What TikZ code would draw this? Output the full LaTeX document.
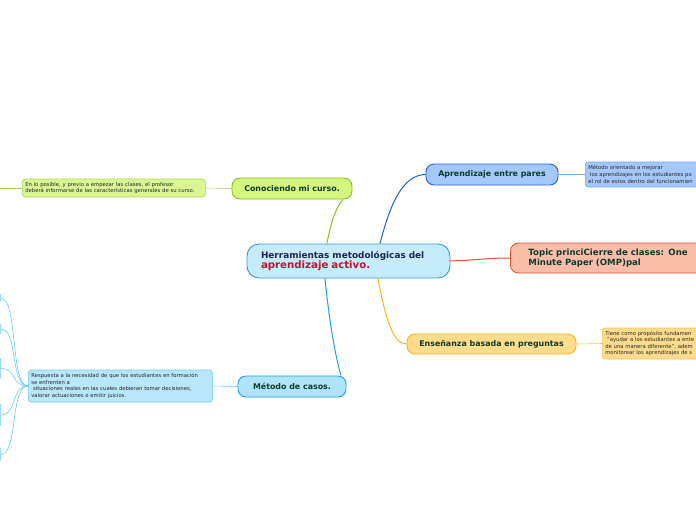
\documentclass[tikz,border=0pt]{standalone}
\usepackage{fontspec}
\setmainfont{DejaVu Sans}
\usepackage{xcolor}
\usetikzlibrary{arrows.meta}

\definecolor{cNavy}{HTML}{1A2550}
\definecolor{cCrimson}{HTML}{C8102E}
\definecolor{cTopicTxt}{HTML}{0F3B2C}
\definecolor{cMainFill}{HTML}{C6EBFB}
\definecolor{cMainLine}{HTML}{2A9FD8}
\definecolor{cGreenFill}{HTML}{D4F57E}
\definecolor{cGreenLine}{HTML}{8CBF1E}
\definecolor{cGreenSub}{HTML}{D9F693}
\definecolor{cGreenSubLine}{HTML}{A9D64E}
\definecolor{cCaseFill}{HTML}{AEE3F9}
\definecolor{cCaseLine}{HTML}{1AA2DC}
\definecolor{cCaseSub}{HTML}{B8E7FB}
\definecolor{cCaseSubLine}{HTML}{6CCAF0}
\definecolor{cPeerFill}{HTML}{A4C8FA}
\definecolor{cPeerLine}{HTML}{1E62CF}
\definecolor{cPeerSubLine}{HTML}{72A8EF}
\definecolor{cRedFill}{HTML}{F9BDA9}
\definecolor{cRedLine}{HTML}{E5532B}
\definecolor{cAskFill}{HTML}{FEDC8C}
\definecolor{cAskLine}{HTML}{F9B31A}
\definecolor{cAskSubLine}{HTML}{F6C555}

\begin{document}
\begin{tikzpicture}[x=1pt,y=-1pt,
  topicbox/.style={draw,rounded corners=8pt,line width=0.9pt,inner sep=0pt,
    font=\fontsize{7.9}{9}\selectfont\bfseries,text=cTopicTxt},
  subbox/.style={draw,rounded corners=3pt,line width=0.6pt,anchor=west,align=left,
    inner xsep=3pt,inner ysep=2pt,font=\fontsize{5.3}{6.6}\selectfont,text=black!85},
  leafbox/.style={draw=cCaseSubLine,fill=white,rounded corners=3pt,line width=0.6pt,
    anchor=east,minimum width=60pt,inner sep=0pt},
  link/.style={line width=1pt},
  sublink/.style={line width=0.6pt}]
  \useasboundingbox (0,0) rectangle (696,520);
  \clip (0,0) rectangle (696,520);

  % main topic
  \node[draw=cMainLine,fill=cMainFill,rounded corners=12pt,line width=0.9pt,
    inner xsep=14pt,inner ysep=0pt,minimum height=34pt,text width=175pt,align=left,
    font=\fontsize{8.9}{10.5}\selectfont\bfseries,text=cNavy] (ctr) at (348.5,261)
    {Herramientas metodológicas del\\{\color{cCrimson}\fontsize{10.2}{11}\selectfont aprendizaje activo.}};

  % topics
  \node[topicbox,draw=cGreenLine,fill=cGreenFill,minimum width=120pt,minimum height=21pt] (curso) at (292,188.5) {Conociendo mi curso.};
  \node[topicbox,draw=cCaseLine,fill=cCaseFill,minimum width=108pt,minimum height=21pt] (casos) at (292,386.5) {Método de casos.};
  \node[topicbox,draw=cPeerLine,fill=cPeerFill,minimum width=132pt,minimum height=21pt] (pares) at (492,174.5) {Aprendizaje entre pares};
  \node[topicbox,draw=cRedLine,fill=cRedFill,anchor=west,minimum height=30pt,text width=200pt,
    inner xsep=18pt,align=left,font=\fontsize{8.6}{10.3}\selectfont\bfseries] (cierre) at (510,258)
    {Topic princiCierre de clases: One\\Minute Paper (OMP)pal};
  \node[topicbox,draw=cAskLine,fill=cAskFill,minimum width=169pt,minimum height=20pt] (preg) at (491.5,344) {Enseñanza basada en preguntas};

  % subtopics
  \node[subbox,draw=cGreenSubLine,fill=cGreenSub,minimum height=18pt,text width=177pt] (cursosub) at (22,188)
    {En lo posible, y previo a empezar las clases, el profesor\\deberá informarse de las características generales de su curso.};
  \node[subbox,draw=cCaseSubLine,fill=cCaseSub,minimum height=32pt,text width=178pt] (casossub) at (28,386)
    {Respuesta a la necesidad de que los estudiantes en formación\\se enfrenten a\\\ situaciones reales en las cuales debieran tomar decisiones,\\valorar actuaciones o emitir juicios.};
  \node[subbox,draw=cPeerSubLine,fill=cPeerFill,minimum height=25pt,text width=150pt] (parsub) at (585,174.5)
    {Método orientado a mejorar\\\ los aprendizajes en los estudiantes po\\el rol de estos dentro del funcionamien};
  \node[subbox,draw=cAskSubLine,fill=cAskFill,minimum height=31pt,text width=150pt] (pregsub) at (602,343.5)
    {Tiene como propósito fundamen\\\ "ayudar a los estudiantes a ente\\de una manera diferente", adem\\monitorear los aprendizajes de s};

  % leaves of the case method, cut by the left edge
  \node[leafbox,minimum height=10pt] (leaf1) at (1,298) {};
  \node[leafbox,minimum height=12pt] (leaf2) at (1,329) {};
  \node[leafbox,minimum height=23pt] (leaf3) at (1,368.5) {};
  \node[leafbox,minimum height=24pt] (leaf4) at (1,415) {};
  \node[leafbox,minimum height=15pt] (leaf5) at (1,454.5) {};
  \coordinate (gfar) at (-10,188);

  % main links
  \draw[link,cGreenLine] ([xshift=-21.5pt]ctr.north) .. controls (331,220) and (337,206) .. ([xshift=51pt]curso.south);
  \draw[link,cCaseLine] ([xshift=-23.5pt]ctr.south) .. controls (330,330) and (337,362) .. ([xshift=49pt]casos.north);
  \draw[link,cPeerLine] ([xshift=31.5pt]ctr.north) .. controls (390,205) and (402,175) .. (pares.west);
  \draw[link,cRedLine] (ctr.east) .. controls (478,260) and (488,258) .. (cierre.west);
  \draw[link,cAskLine] ([xshift=29.5pt]ctr.south) .. controls (386,322) and (394,344) .. (preg.west);

  % sub links
  \draw[sublink,cGreenSubLine] (curso.west) -- (cursosub.east);
  \draw[sublink,cGreenSubLine] (cursosub.west) -- (gfar);
  \draw[sublink,cCaseSubLine] (casos.west) -- (casossub.east);
  \draw[sublink,cPeerSubLine] (pares.east) -- (parsub.west);
  \draw[sublink,cAskSubLine] (preg.east) -- (pregsub.west);
  \foreach \k in {1,...,5}
    \draw[sublink,cCaseSubLine] (casossub.west) .. controls (10,386) and ([xshift=17pt]leaf\k.east) .. (leaf\k.east);
\end{tikzpicture}
\end{document}
